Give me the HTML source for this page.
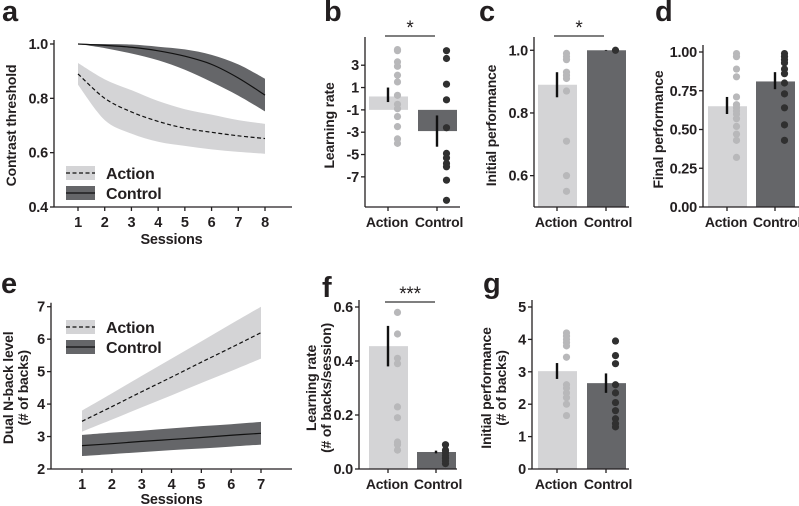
<!DOCTYPE html>
<html><head><meta charset="utf-8"><style>
body{margin:0;background:#fff}
svg{display:block;font-family:"Liberation Sans",Arial,sans-serif;font-weight:bold}
</style></head><body>
<svg id="fig" width="799" height="506" viewBox="0 0 799 506" xmlns="http://www.w3.org/2000/svg"></svg>
<script>
// ---- data ----
const sessionsA=[1,2,3,4,5,6,7,8];
const actionLineA=[0.89,0.80,0.75,0.715,0.69,0.675,0.662,0.652];
const actionLoA=[0.85,0.72,0.67,0.64,0.625,0.612,0.603,0.596];
const actionHiA=[0.93,0.87,0.83,0.79,0.76,0.74,0.72,0.706];
const controlLineA=[1.0,0.995,0.988,0.975,0.955,0.925,0.875,0.812];
const controlLoA=[1.0,0.985,0.965,0.94,0.905,0.86,0.81,0.752];
const controlHiA=[1.0,1.0,0.998,0.99,0.98,0.96,0.925,0.872];

const sessionsE=[1,2,3,4,5,6,7];
const actionLineE=[3.47,3.92,4.38,4.83,5.29,5.74,6.2];
const actionLoE=[3.15,3.52,3.9,4.27,4.65,5.02,5.4];
const actionHiE=[3.8,4.33,4.87,5.4,5.93,6.47,7.0];
const controlLineE=[2.72,2.78,2.85,2.91,2.97,3.04,3.1];
const controlLoE=[2.4,2.46,2.52,2.58,2.63,2.69,2.75];
const controlHiE=[3.05,3.12,3.18,3.25,3.32,3.38,3.45];

const groups=["Action","Control"];
const bMeans=[0.2,-2.9], bErrLo=[-0.3,-4.3], bErrHi=[1.0,-1.5];
const bActionDots=[4.4,4.3,3.3,2.9,2.1,1.5,0.3,-0.5,-0.9,-1.6,-2.5,-3.6,-4.0];
const bControlDots=[4.3,3.6,1.3,-0.1,-2.6,-4.9,-5.3,-5.8,-6.1,-7.3,-9.1];
const cMeans=[0.89,1.0], cErrLo=[0.85,0.999], cErrHi=[0.93,1.001];
const cActionDots=[0.99,0.98,0.97,0.93,0.92,0.91,0.87,0.71,0.60,0.55];
const cControlDots=[1.0];
const dMeans=[0.65,0.81], dErrLo=[0.60,0.76], dErrHi=[0.71,0.87];
const dActionDots=[0.99,0.97,0.89,0.84,0.71,0.66,0.64,0.62,0.60,0.57,0.52,0.47,0.43,0.32];
const dControlDots=[0.99,0.97,0.95,0.93,0.89,0.86,0.80,0.73,0.64,0.53,0.43];
const fMeans=[0.455,0.063], fErrLo=[0.38,0.058], fErrHi=[0.53,0.068];
const fActionDots=[0.58,0.50,0.41,0.39,0.23,0.19,0.10,0.09,0.07];
const fControlDots=[0.09,0.07,0.06,0.05,0.04,0.03,0.02];
const gMeans=[3.02,2.65], gErrLo=[2.78,2.35], gErrHi=[3.27,2.95];
const gActionDots=[4.2,4.1,4.0,3.9,3.8,3.45,2.6,2.5,2.35,2.2,2.0,1.65];
const gControlDots=[3.95,3.5,3.25,2.6,2.35,2.05,1.8,1.55,1.4,1.3];

const LIGHT="#d4d4d6", DARK="#656669", LDOT="#b8b8ba", DDOT="#303030", INK="#231f20";
const svg=document.getElementById('fig');
const NS="http://www.w3.org/2000/svg";
function el(tag,attrs,parent){const e=document.createElementNS(NS,tag);for(const k in attrs)e.setAttribute(k,attrs[k]);(parent||svg).appendChild(e);return e;}
function txt(s,x,y,size,anchor,parent,rot){const t=el('text',{x:x,y:y,'font-size':size,'text-anchor':anchor||'middle',fill:INK,'letter-spacing':'-0.2'},parent);if(rot)t.setAttribute('transform','rotate(-90 '+x+' '+y+')');t.textContent=s;return t;}
function lin(d0,d1,r0,r1){return v=>r0+(v-d0)*(r1-r0)/(d1-d0);}
function smooth(pts,move){
  let p=(move?'M':'L')+pts[0][0]+','+pts[0][1];
  for(let i=0;i<pts.length-1;i++){
    const p0=pts[Math.max(i-1,0)],p1=pts[i],p2=pts[i+1],p3=pts[Math.min(i+2,pts.length-1)];
    const c1=[p1[0]+(p2[0]-p0[0])/6,p1[1]+(p2[1]-p0[1])/6],c2=[p2[0]-(p3[0]-p1[0])/6,p2[1]-(p3[1]-p1[1])/6];
    p+='C'+c1[0]+','+c1[1]+' '+c2[0]+','+c2[1]+' '+p2[0]+','+p2[1];
  }
  return p;
}

function lineChart(o){
  const g=el('g',{});
  
  
  const sx=lin(o.xs[0],o.xs[o.xs.length-1],o.px0,o.px1), sy=lin(o.yd[0],o.yd[1],o.py0,o.py1);
  const pts=v=>o.xs.map((s,i)=>[sx(s),sy(v[i])]);
  function band(lo,hi,fill,nm){const p=smooth(pts(hi),true)+smooth(pts(lo).reverse(),false)+'Z';const b=el('path',{d:p,fill:fill},g);}
  function line(v,dash,nm){const l=el('path',{d:smooth(pts(v),true),fill:'none',stroke:'#111','stroke-width':1.2},g);if(dash)l.setAttribute('stroke-dasharray','4,2.5');}
  band(o.aLo,o.aHi,LIGHT,'action-band');band(o.cLo,o.cHi,DARK,'control-band');
  line(o.a,true,'action-line');line(o.c,false,'control-line');
  el('line',{x1:o.ax,y1:o.py1-4,x2:o.ax,y2:o.py0,stroke:INK,'stroke-width':1.3},g);
  el('line',{x1:o.ax,y1:o.py0,x2:o.axr,y2:o.py0,stroke:INK,'stroke-width':1.3},g);
  o.yt.forEach((v,i)=>{el('line',{x1:o.ax-4,y1:sy(v),x2:o.ax,y2:sy(v),stroke:INK,'stroke-width':1.3},g);txt(o.ytl[i],o.ax-6,sy(v)+5,14.5,'end',g);});
  o.xs.forEach(s=>{el('line',{x1:sx(s),y1:o.py0,x2:sx(s),y2:o.py0+4,stroke:INK,'stroke-width':1.3},g);txt(String(s),sx(s),o.py0+20,14.5,'middle',g);});
  txt('Sessions',(o.px0+o.px1)/2,o.py0+o.sessDy,14.5,'middle',g);
  o.ylab.forEach((s,i)=>txt(s,o.ylx+i*15,(o.py0+o.py1)/2,14,'middle',g,true));
  [['Action',LIGHT,true],['Control',DARK,false]].forEach((L,i)=>{
    const lg=el('g',{},g);
    const y=o.legY+i*20;el('rect',{x:66,y:y-7,width:29,height:14,fill:L[1]},lg);
    const l=el('line',{x1:66,y1:y,x2:95,y2:y,stroke:'#111','stroke-width':1.2},lg);if(L[2])l.setAttribute('stroke-dasharray','4,2.5');
    txt(L[0],106,y+6,16,'start',lg);
  });
}

function barChart(o){
  const g=el('g',{});
  
  
  const sy=lin(o.yd[0],o.yd[1],o.py0,o.py1);
  const base=o.base!==undefined?o.base:o.yd[0];
  groups.forEach((gr,i)=>{
    const cx=o.ticks[i], top=sy(Math.max(o.means[i],base)), bot=sy(Math.min(o.means[i],base));
    const b=el('rect',{x:cx-19,y:top,width:39,height:Math.max(bot-top,1),fill:i?DARK:LIGHT},g);
    
    const dots=i?o.cd:o.ad;
    dots.forEach(v=>{const c=el('circle',{cx:cx+9.5,cy:sy(v),r:3.6,fill:i?DDOT:LDOT},g);});
    const e=el('line',{x1:cx,y1:sy(o.eLo[i]),x2:cx,y2:sy(o.eHi[i]),stroke:'#111','stroke-width':2.4},g);
    
    el('line',{x1:cx,y1:o.py0,x2:cx,y2:o.py0+4,stroke:INK,'stroke-width':1.3},g);
    txt(gr,cx+(i?2:-1),o.py0+20,14,'middle',g);
  });
  el('line',{x1:o.ax,y1:o.py1-7,x2:o.ax,y2:o.py0,stroke:INK,'stroke-width':1.3},g);
  el('line',{x1:o.ax,y1:o.py0,x2:o.axr,y2:o.py0,stroke:INK,'stroke-width':1.3},g);
  o.yt.forEach((v,i)=>{el('line',{x1:o.ax-4,y1:sy(v),x2:o.ax,y2:sy(v),stroke:INK,'stroke-width':1.3},g);txt(o.ytl[i],o.ax-6,sy(v)+5,14.5,'end',g);});
  o.ylab.forEach((s,i)=>txt(s,o.ylx+i*15,(o.py0+o.py1)/2,14,'middle',g,true));
  if(o.sig){const sg=el('g',{},g);
    el('line',{x1:o.sig[0],y1:o.sig[2],x2:o.sig[1],y2:o.sig[2],stroke:'#333','stroke-width':1.2},sg);
    const t=txt(o.sig[3],(o.sig[0]+o.sig[1])/2,o.sig[2]-2,19,'middle',sg);t.setAttribute('font-weight','normal');}
}

lineChart({name:'panel-a-contrast-threshold',xs:sessionsA,px0:78,px1:265,yd:[0.4,1.0],py0:207,py1:44,ax:54,axr:292,sessDy:37,
  yt:[0.4,0.6,0.8,1.0],ytl:['0.4','0.6','0.8','1.0'],a:actionLineA,aLo:actionLoA,aHi:actionHiA,c:controlLineA,cLo:controlLoA,cHi:controlHiA,
  ylab:['Contrast threshold'],ylx:16,legY:173});
lineChart({name:'panel-e-nback-level',xs:sessionsE,px0:82,px1:261,yd:[2,7],py0:469,py1:306.7,ax:51,axr:292,sessDy:35,
  yt:[2,3,4,5,6,7],ytl:['2','3','4','5','6','7'],a:actionLineE,aLo:actionLoE,aHi:actionHiE,c:controlLineE,cLo:controlLoE,cHi:controlHiE,
  ylab:['Dual N-back level','(# of backs)'],ylx:13,legY:327});
barChart({name:'panel-b-learning-rate',yd:[-9.7,4.9],py0:207,py1:44,base:-1,ax:365,axr:460,ticks:[388,437],
  means:bMeans,eLo:bErrLo,eHi:bErrHi,ad:bActionDots,cd:bControlDots,yt:[3,1,-1,-3,-5,-7],ytl:['3','1','-1','-3','-5','-7'],
  ylab:['Learning rate'],ylx:334,sig:[385,435,36,'*']});
barChart({name:'panel-c-initial-performance',yd:[0.5,1.02],py0:207,py1:44,ax:534,axr:629,ticks:[557,606],
  means:cMeans,eLo:cErrLo,eHi:cErrHi,ad:cActionDots,cd:cControlDots,yt:[0.6,0.8,1.0],ytl:['0.6','0.8','1.0'],
  ylab:['Initial performance'],ylx:496,sig:[554,604,36,'*']});
barChart({name:'panel-d-final-performance',yd:[0,1],py0:207,py1:52,ax:703,axr:799,ticks:[727,775],
  means:dMeans,eLo:dErrLo,eHi:dErrHi,ad:dActionDots,cd:dControlDots,yt:[0,0.25,0.5,0.75,1.0],ytl:['0.00','0.25','0.50','0.75','1.00'],
  ylab:['Final performance'],ylx:663});
barChart({name:'panel-f-learning-rate',yd:[0,0.6],py0:469,py1:307,ax:359,axr:457,ticks:[388,436],
  means:fMeans,eLo:fErrLo,eHi:fErrHi,ad:fActionDots,cd:fControlDots,yt:[0,0.2,0.4,0.6],ytl:['0.0','0.2','0.4','0.6'],
  ylab:['Learning rate','(# of backs/session)'],ylx:316,sig:[385,435,302,'***']});
barChart({name:'panel-g-initial-performance',yd:[0,5],py0:469,py1:307,ax:532,axr:629,ticks:[557,606],
  means:gMeans,eLo:gErrLo,eHi:gErrHi,ad:gActionDots,cd:gControlDots,yt:[0,1,2,3,4,5],ytl:['0','1','2','3','4','5'],
  ylab:['Initial performance','(# of backs)'],ylx:491});

[['a',2,21],['b',324,21],['c',479,21],['d',655,21],['e',1,293],['f',322,297],['g',483,293]].forEach(p=>{
  const t=txt(p[0],p[1],p[2],29,'start');
  
  
});
</script>
</body></html>
